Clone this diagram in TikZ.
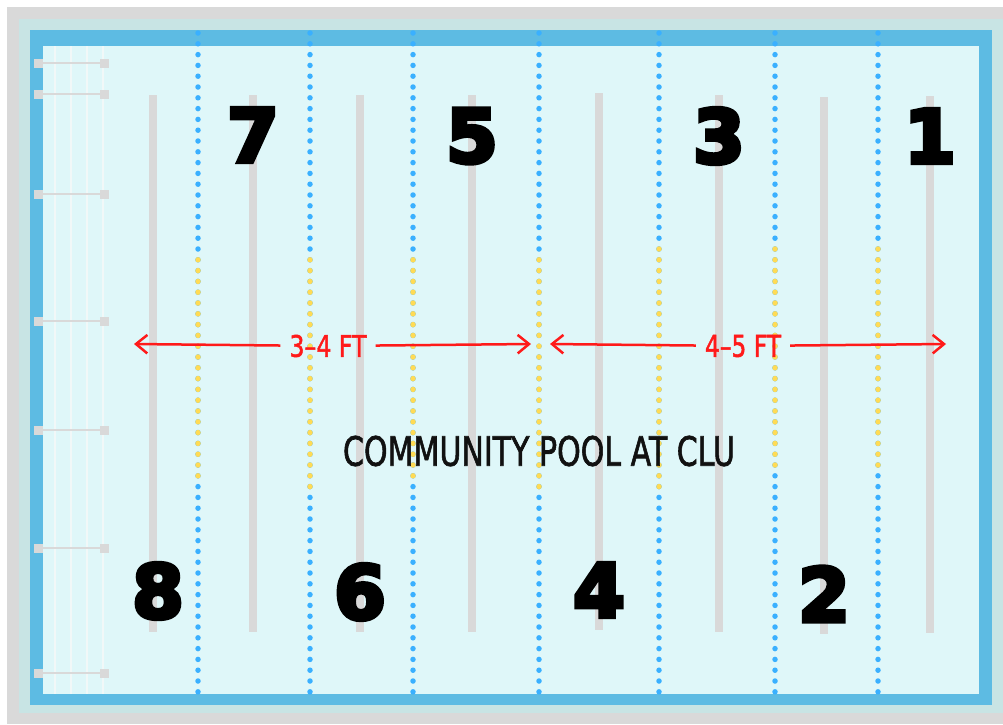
\documentclass[tikz,border=0pt]{standalone}
\usepackage{graphicx}
\usepackage{fontspec}
\setmainfont{DejaVu Sans}
\newfontfamily\numfont[BoldFeatures={FakeBold=6}]{DejaVu Sans}
\newfontfamily\signfont[FakeBold=1.8]{DejaVu Sans}
\usetikzlibrary{arrows.meta}
\definecolor{deck}{HTML}{D9D9D9}
\definecolor{coping}{HTML}{C8E4E4}
\definecolor{tile}{HTML}{5DBBE3}
\definecolor{water}{HTML}{DFF7F9}
\definecolor{rope}{HTML}{3AB0FF}
\definecolor{buoy}{HTML}{FFDB55}
\definecolor{marker}{HTML}{D9D9D9}
\definecolor{rail}{HTML}{F1F8F8}
\definecolor{depth}{HTML}{FF1A1A}
\definecolor{ink}{HTML}{111111}

\begin{document}
\begin{tikzpicture}[x=1pt, y=-1pt,
    every node/.style={inner sep=0pt, text=ink},
    num/.style={font=\numfont\fontsize{74}{74}\selectfont\bfseries, text=black},
    ropeline/.style={line width=5.5pt, line cap=round, dash pattern=on 0pt off 10.8pt},
    laneline/.style={draw=marker, line width=8pt},
    rung/.style={draw=marker, line width=2pt},
    railline/.style={draw=rail, line width=2pt},
    ftlabel/.style={text=depth, font=\signfont, inner xsep=9pt, inner ysep=4pt},
    measure/.style={draw=depth, line width=2.5pt,
                    -{Straight Barb[length=4mm, width=6.5mm, line width=2.5pt]}},
  ]
  \useasboundingbox (0,0) rectangle (1003,724);
  \fill[white] (0,0) rectangle (1003,724);

  % deck, coping, tile border and water
  \fill[deck]   (7,7)   rectangle (1003,724);
  \fill[coping] (19,19) rectangle (1003,713);
  \fill[tile]   (30,30) rectangle (992,705);
  \fill[water]  (43,46) rectangle (979,694);

  % ladder on the left wall
  \foreach \x in {55,71,87,103}
    \draw[railline] (\x,46) -- (\x,694);
  \foreach \y in {63,94,194,321,430,548,673} {
    \draw[rung] (38,\y) -- (104,\y);
    \fill[marker] (34,\y-4.5) rectangle (43,\y+4.5);
    \fill[marker] (100,\y-4.5) rectangle (109,\y+4.5);
  }

  % lane lines on the floor
  \foreach \x/\t/\b in {153/95/632, 253/95/632, 360/95/632, 472/95/632,
                        599/93/630, 719/95/632, 824/97/634, 930/96/633}
    \draw[laneline] (\x,\t) -- (\x,\b);

  % lane ropes with yellow floats in the middle
  \foreach \x/\s/\e in {198/21/41, 310/21/42, 413/21/41, 539/21/42,
                        659/20/42, 775/20/40, 878/20/40} {
    \draw[ropeline, rope] (\x,33) -- (\x,692);
    \draw[ropeline, buoy] (\x,{33+\s*10.8}) -- (\x,{33+\e*10.8});
  }

  % lane numbers
  \node[num] (lane7) at (253,135) {7};
  \node[num] (lane5) at (472,136) {5};
  \node[num] (lane3) at (719,136) {3};
  \node[num] (lane1) at (930,136) {1};
  \node[num] (lane8) at (158,591) {8};
  \node[num] (lane6) at (360,592) {6};
  \node[num] (lane4) at (599,590) {4};
  \node[num] (lane2) at (824,594) {2};

  % depth markers
  \node[ftlabel] (shallow) at (328,346) {\resizebox{77pt}{22pt}{3–4 FT}};
  \coordinate (shallowW) at (134,344);
  \coordinate (shallowE) at (531,344);
  \draw[measure] (shallow) -- (shallowW);
  \draw[measure] (shallow) -- (shallowE);

  \node[ftlabel] (deep) at (743,346) {\resizebox{76pt}{22pt}{4–5 FT}};
  \coordinate (deepW) at (550,344);
  \coordinate (deepE) at (946,344);
  \draw[measure] (deep) -- (deepW);
  \draw[measure] (deep) -- (deepE);

  % pool name
  \node[font=\signfont] (title) at (539,451) {\resizebox{392pt}{30pt}{COMMUNITY POOL AT CLU}};
\end{tikzpicture}
\end{document}
